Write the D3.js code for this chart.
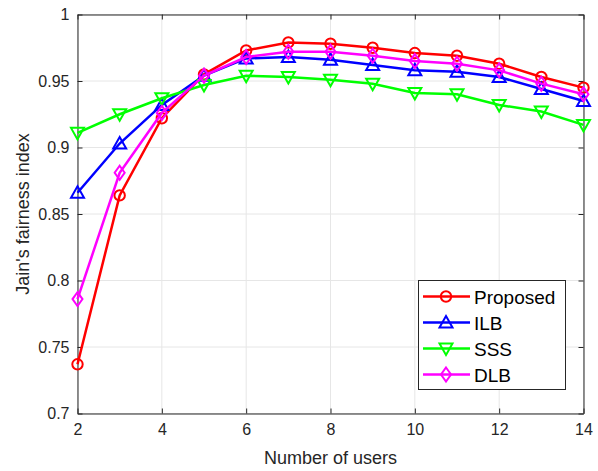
<!DOCTYPE html>
<html><head><meta charset="utf-8">
<script src="https://cdn.jsdelivr.net/npm/d3@7"></script>
<style>body{margin:0;background:#fff}svg{font-family:"Liberation Sans",Arial,Helvetica,sans-serif}</style>
</head><body><svg id="c" width="598" height="471"></svg>
<script>
const users = [2,3,4,5,6,7,8,9,10,11,12,13,14];
const proposed = [0.737,0.864,0.922,0.955,0.973,0.979,0.978,0.975,0.971,0.969,0.963,0.953,0.945];
const ilb = [0.866,0.903,0.932,0.954,0.967,0.968,0.966,0.962,0.958,0.957,0.953,0.944,0.935];
const sss = [0.911,0.925,0.937,0.947,0.954,0.953,0.951,0.948,0.941,0.940,0.932,0.927,0.917];
const dlb = [0.786,0.881,0.926,0.954,0.968,0.972,0.972,0.969,0.965,0.963,0.958,0.948,0.940];
const seriesNames = ["Proposed","ILB","SSS","DLB"];
const xTicks = [2,4,6,8,10,12,14];
const yTicks = [0.7,0.75,0.8,0.85,0.9,0.95,1];
const yTickLabels = ["0.7","0.75","0.8","0.85","0.9","0.95","1"];

const series = [
  {name:seriesNames[0], values:proposed, color:"#ff0000", marker:"circle"},
  {name:seriesNames[1], values:ilb, color:"#0000ff", marker:"up"},
  {name:seriesNames[2], values:sss, color:"#00ff00", marker:"down"},
  {name:seriesNames[3], values:dlb, color:"#ff00ff", marker:"diamond"}
];

const L=77.5, R=583.5, T=14.5, B=413.5;
const svg = d3.select("#c");
const x = d3.scaleLinear().domain([2,14]).range([L,R]);
const y = d3.scaleLinear().domain([0.7,1]).range([B,T]);
const axCol = "#262626";

// grid
const g = svg.append("g");
g.selectAll(".gx").data(xTicks).join("line")
  .attr("x1",d=>x(d)).attr("x2",d=>x(d)).attr("y1",T).attr("y2",B)
  .attr("stroke","#e6e6e6").attr("stroke-width",1);
g.selectAll(".gy").data(yTicks).join("line")
  .attr("y1",d=>y(d)).attr("y2",d=>y(d)).attr("x1",L).attr("x2",R)
  .attr("stroke","#e6e6e6").attr("stroke-width",1);

// axes
const fmt = (d)=>yTickLabels[yTicks.findIndex(v=>Math.abs(v-d)<1e-9)];
const xAxis = d3.axisBottom(x).tickValues(xTicks).tickSizeInner(-5).tickSizeOuter(0).tickPadding(10);
const yAxis = d3.axisLeft(y).tickValues(yTicks).tickFormat(fmt).tickSizeInner(-5).tickSizeOuter(0).tickPadding(8);
const xTop = d3.axisTop(x).tickValues(xTicks).tickSizeInner(-5).tickSizeOuter(0).tickFormat("");
const yRight = d3.axisRight(y).tickValues(yTicks).tickSizeInner(-5).tickSizeOuter(0).tickFormat("");

function style(sel){
  sel.select(".domain").attr("stroke",axCol).attr("stroke-width",1);
  sel.selectAll(".tick line").attr("stroke",axCol);
  sel.selectAll(".tick text").attr("fill",axCol).attr("font-size",16).attr("font-family","Liberation Sans, Arial, sans-serif");
}
svg.append("g").attr("transform",`translate(0,${B})`).call(xAxis).call(style);
svg.append("g").attr("transform",`translate(${L},0)`).call(yAxis).call(style);
svg.append("g").attr("transform",`translate(0,${T})`).call(xTop).call(style);
svg.append("g").attr("transform",`translate(${R},0)`).call(yRight).call(style);

// labels
svg.append("text").attr("x",(L+R)/2).attr("y",464).attr("text-anchor","middle")
  .attr("font-size",18).attr("fill",axCol).text("Number of users");
svg.append("text").attr("transform",`translate(29,${(T+B)/2}) rotate(-90)`).attr("text-anchor","middle")
  .attr("font-size",18).attr("fill",axCol).text("Jain's fairness index");

// markers
function markerPath(type){
  if(type==="circle") return d3.symbol(d3.symbolCircle, 85)();
  if(type==="up") return "M0,-6.5L6.5,5L-6.5,5Z";
  if(type==="down") return "M0,6.5L6.5,-5L-6.5,-5Z";
  if(type==="diamond") return "M0,-7L5,0L0,7L-5,0Z";
}

const line = d3.line().x((d,i)=>x(users[i])).y(d=>y(d));
const plot = svg.append("g");
series.forEach(s=>{
  plot.append("path").datum(s.values).attr("d",line)
    .attr("fill","none").attr("stroke",s.color).attr("stroke-width",2.5);
  plot.selectAll(null).data(s.values).join("path")
    .attr("d",markerPath(s.marker))
    .attr("transform",(d,i)=>`translate(${x(users[i])},${y(d)})`)
    .attr("fill","none").attr("stroke",s.color).attr("stroke-width",2);
});

// legend
const lg = svg.append("g");
lg.append("rect").attr("x",418.5).attr("y",280.5).attr("width",147).attr("height",109)
  .attr("fill","#fff").attr("stroke",axCol).attr("stroke-width",1);
series.forEach((s,i)=>{
  const yy = 296.5 + i*26;
  lg.append("line").attr("x1",423).attr("x2",470).attr("y1",yy).attr("y2",yy)
    .attr("stroke",s.color).attr("stroke-width",2.5);
  lg.append("path").attr("d",markerPath(s.marker)).attr("transform",`translate(446,${yy})`)
    .attr("fill","none").attr("stroke",s.color).attr("stroke-width",2);
  lg.append("text").attr("x",474).attr("y",yy+7).attr("font-size",19).attr("fill","#000").text(s.name);
});
</script></body></html>
